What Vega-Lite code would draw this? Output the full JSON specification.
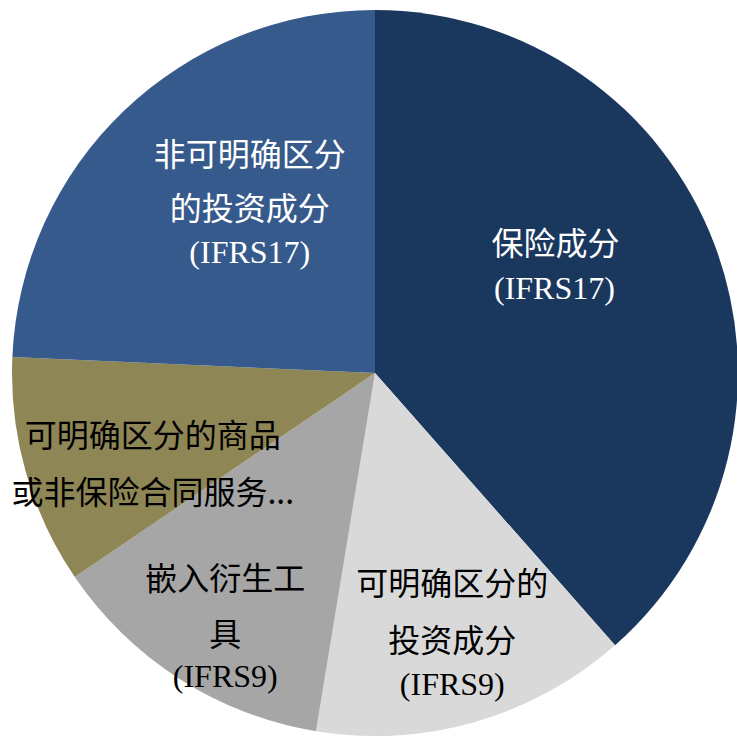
{
  "$schema": "https://vega.github.io/schema/vega-lite/v6.json",
  "width": 726,
  "height": 726,
  "padding": {"left": 11, "top": 10, "right": 0, "bottom": 0},
  "background": "#ffffff",
  "config": {"view": {"stroke": null}},
  "data": {
    "values": [
      {"name": "保险成分", "value": 38.5, "order": 1, "label": "保险成分", "std": "(IFRS17)"},
      {"name": "可明确区分的投资成分", "value": 14.1, "order": 2, "label": "可明确区分的\n投资成分", "std": "(IFRS9)"},
      {"name": "嵌入衍生工具", "value": 12.9, "order": 3, "label": "嵌入衍生工\n具", "std": "(IFRS9)"},
      {"name": "可明确区分的商品或非保险合同服务", "value": 10.2, "order": 4, "label": "可明确区分的商品\n或非保险合同服务...", "std": ""},
      {"name": "非可明确区分的投资成分", "value": 24.3, "order": 5, "label": "非可明确区分\n的投资成分", "std": "(IFRS17)"}
    ]
  },
  "encoding": {
    "theta": {"field": "value", "type": "quantitative", "stack": true},
    "order": {"field": "order", "type": "quantitative"}
  },
  "layer": [
    {
      "mark": {"type": "arc"},
      "encoding": {
        "color": {
          "field": "name",
          "type": "nominal",
          "legend": null,
          "scale": {
            "domain": ["保险成分", "可明确区分的投资成分", "嵌入衍生工具", "可明确区分的商品或非保险合同服务", "非可明确区分的投资成分"],
            "range": ["#1a375e", "#d9d9d9", "#a6a6a6", "#8f8655", "#375a8c"]
          }
        }
      }
    },
    {
      "mark": {"type": "text", "radius": 210, "dx": -16, "dy": -54, "font": "Noto Sans CJK SC", "fontSize": 32, "color": "#ffffff", "align": "center", "baseline": "middle", "lineBreak": "\n", "lineHeight": 56},
      "encoding": {"text": {"condition": {"test": "datum.order === 1", "field": "label"}, "value": ""}}
    },
    {
      "mark": {"type": "text", "radius": 210, "dx": -17, "dy": -10, "font": "Liberation Serif", "fontSize": 32, "color": "#ffffff", "align": "center", "baseline": "middle"},
      "encoding": {"text": {"condition": {"test": "datum.order === 1", "field": "std"}, "value": ""}}
    },
    {
      "mark": {"type": "text", "radius": 280, "dx": 0, "dy": -57, "font": "Noto Sans CJK SC", "fontSize": 32, "color": "#000000", "align": "center", "baseline": "middle", "lineBreak": "\n", "lineHeight": 57},
      "encoding": {"text": {"condition": {"test": "datum.order === 2", "field": "label"}, "value": ""}}
    },
    {
      "mark": {"type": "text", "radius": 280, "dx": 0, "dy": 43, "font": "Liberation Serif", "fontSize": 32, "color": "#000000", "align": "center", "baseline": "middle"},
      "encoding": {"text": {"condition": {"test": "datum.order === 2", "field": "std"}, "value": ""}}
    },
    {
      "mark": {"type": "text", "radius": 280, "dx": 1, "dy": -29, "font": "Noto Sans CJK SC", "fontSize": 32, "color": "#000000", "align": "center", "baseline": "middle", "lineBreak": "\n", "lineHeight": 56},
      "encoding": {"text": {"condition": {"test": "datum.order === 3", "field": "label"}, "value": ""}}
    },
    {
      "mark": {"type": "text", "radius": 280, "dx": 1, "dy": 68, "font": "Liberation Serif", "fontSize": 32, "color": "#000000", "align": "center", "baseline": "middle"},
      "encoding": {"text": {"condition": {"test": "datum.order === 3", "field": "std"}, "value": ""}}
    },
    {
      "mark": {"type": "text", "radius": 230, "dx": -1, "dy": 1, "font": "Noto Sans CJK SC", "fontSize": 32, "color": "#000000", "align": "center", "baseline": "middle", "lineBreak": "\n", "lineHeight": 57},
      "encoding": {"text": {"condition": {"test": "datum.order === 4", "field": "label"}, "value": ""}}
    },
    {
      "mark": {"type": "text", "radius": 210, "dx": 20, "dy": -65, "font": "Noto Sans CJK SC", "fontSize": 32, "color": "#ffffff", "align": "center", "baseline": "middle", "lineBreak": "\n", "lineHeight": 54},
      "encoding": {"text": {"condition": {"test": "datum.order === 5", "field": "label"}, "value": ""}}
    },
    {
      "mark": {"type": "text", "radius": 210, "dx": 20, "dy": 32, "font": "Liberation Serif", "fontSize": 32, "color": "#ffffff", "align": "center", "baseline": "middle"},
      "encoding": {"text": {"condition": {"test": "datum.order === 5", "field": "std"}, "value": ""}}
    }
  ]
}
